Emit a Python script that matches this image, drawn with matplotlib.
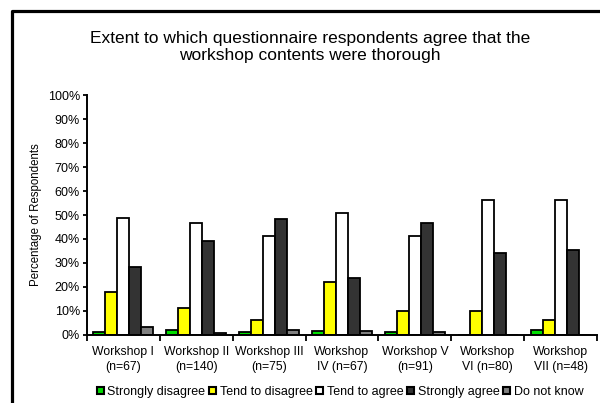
import numpy as np
import matplotlib
matplotlib.use("Agg")
import matplotlib.pyplot as plt
from matplotlib.patches import Patch
from matplotlib.lines import Line2D
from matplotlib.ticker import PercentFormatter

plt.rcParams["font.family"] = ["Liberation Sans", "DejaVu Sans"]

WORKSHOPS = ["Workshop I\n(n=67)", "Workshop II\n(n=140)", "Workshop III\n(n=75)",
             "Workshop\nIV (n=67)", "Workshop V\n(n=91)", "Workshop\nVI (n=80)",
             "Workshop\nVII (n=48)"]
SERIES = ["Strongly disagree", "Tend to disagree", "Tend to agree",
          "Strongly agree", "Do not know"]
strongly_disagree = [1.4, 2.1, 1.4, 1.5, 1.4, 0.0, 2.1]
tend_to_disagree = [18.0, 11.4, 6.4, 22.2, 9.8, 9.8, 6.3]
tend_to_agree = [48.9, 46.5, 41.4, 50.7, 41.4, 56.3, 56.3]
strongly_agree = [28.2, 39.0, 48.2, 23.9, 46.5, 34.0, 35.6]
do_not_know = [3.2, 0.6, 2.1, 1.5, 1.4, 0.0, 0.0]
VALUES = [strongly_disagree, tend_to_disagree, tend_to_agree,
          strongly_agree, do_not_know]
COLORS = ["#00dd00", "#ffff00", "#ffffff", "#333333", "#808080"]

fig = plt.figure(figsize=(6.0, 4.03), dpi=100)
ax = fig.add_axes([0.145, 0.169, 0.85, 0.595])

x = np.arange(len(WORKSHOPS))
w = 0.165
for i, (vals, col) in enumerate(zip(VALUES, COLORS)):
    ax.bar(x + (i - 2) * w, vals, width=w, color=col, edgecolor="black",
           linewidth=1.3, label=SERIES[i])

ax.set_xlim(-0.5, len(WORKSHOPS) - 0.5)
ax.set_ylim(0, 100)
ax.set_yticks(np.arange(0, 101, 10))
ax.yaxis.set_major_formatter(PercentFormatter(decimals=0))
ax.set_xticks(x)
ax.set_xticklabels(WORKSHOPS, fontsize=8.8, linespacing=1.35)
ax.set_xticks(np.arange(-0.5, len(WORKSHOPS)), minor=True)
ax.tick_params(axis="x", which="major", length=0, pad=8)
ax.tick_params(axis="x", which="minor", length=4, width=1.3)
ax.tick_params(axis="y", length=3, width=1.3, labelsize=9, pad=2)
for s in ["top", "right"]:
    ax.spines[s].set_visible(False)
for s in ["left", "bottom"]:
    ax.spines[s].set_linewidth(1.4)
ax.set_ylabel("Percentage of Respondents", fontsize=8.3, labelpad=4)

fig.text(0.517, 0.883, "Extent to which questionnaire respondents agree that the\n"
         "workshop contents were thorough", ha="center", va="center",
         fontsize=12.5, linespacing=1.2)

handles = [Patch(facecolor=c, edgecolor="black", linewidth=1.5) for c in COLORS]
fig.legend(handles, SERIES, loc="center", bbox_to_anchor=(0.567, 0.028),
           ncol=5, frameon=False, fontsize=9, handlelength=0.55,
           handleheight=0.55, handletextpad=0.3, columnspacing=0.3,
           borderpad=0.0)

# black frame on left and top edges
fig.add_artist(Line2D([11.5 / 600, 11.5 / 600, 1.0],
                      [0.0, 1 - 10.5 / 403, 1 - 10.5 / 403],
                      transform=fig.transFigure, color="black", linewidth=2.3))

fig.savefig("out.png", dpi=100)
